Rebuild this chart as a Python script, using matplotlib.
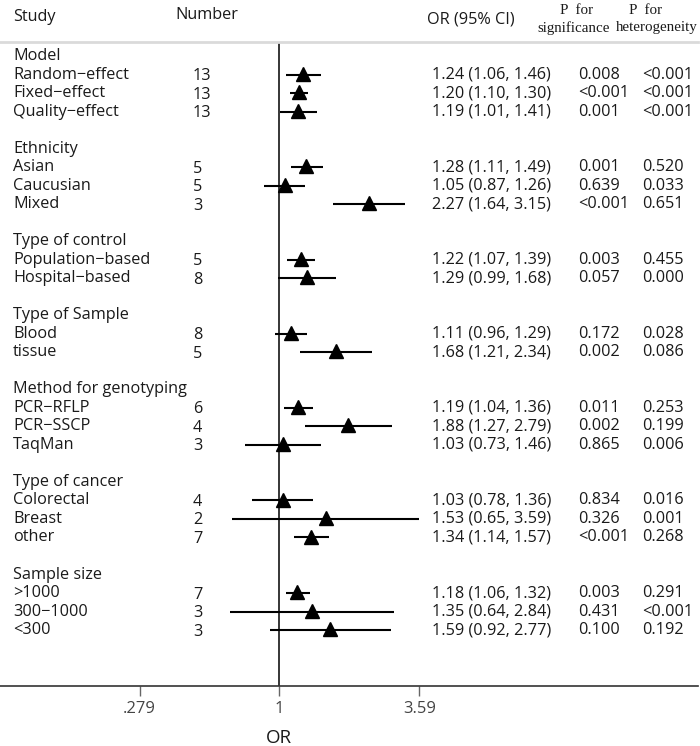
import matplotlib
matplotlib.use("Agg")
import matplotlib.pyplot as plt
import numpy as np

plt.rcParams['font.family'] = ['Open Sans', 'DejaVu Sans']

# subgroup headings and the rows under each
groups = ["Model", "Ethnicity", "Type of control", "Type of Sample",
          "Method for genotyping", "Type of cancer", "Sample size"]
group_of = [0, 0, 0, 1, 1, 1, 2, 2, 3, 3, 4, 4, 4, 5, 5, 5, 6, 6, 6]
studies = ["Random\u2212effect", "Fixed\u2212effect", "Quality\u2212effect",
           "Asian", "Caucusian", "Mixed",
           "Population\u2212based", "Hospital\u2212based",
           "Blood", "tissue",
           "PCR\u2212RFLP", "PCR\u2212SSCP", "TaqMan",
           "Colorectal", "Breast", "other",
           ">1000", "300\u22121000", "<300"]
numbers = [13, 13, 13, 5, 5, 3, 5, 8, 8, 5, 6, 4, 3, 4, 2, 7, 7, 3, 3]
or_est = [1.24, 1.20, 1.19, 1.28, 1.05, 2.27, 1.22, 1.29, 1.11, 1.68,
          1.19, 1.88, 1.03, 1.03, 1.53, 1.34, 1.18, 1.35, 1.59]
ci_low = [1.06, 1.10, 1.01, 1.11, 0.87, 1.64, 1.07, 0.99, 0.96, 1.21,
          1.04, 1.27, 0.73, 0.78, 0.65, 1.14, 1.06, 0.64, 0.92]
ci_high = [1.46, 1.30, 1.41, 1.49, 1.26, 3.15, 1.39, 1.68, 1.29, 2.34,
           1.36, 2.79, 1.46, 1.36, 3.59, 1.57, 1.32, 2.84, 2.77]
p_sig = ["0.008", "<0.001", "0.001", "0.001", "0.639", "<0.001", "0.003", "0.057",
         "0.172", "0.002", "0.011", "0.002", "0.865", "0.834", "0.326", "<0.001",
         "0.003", "0.431", "0.100"]
p_het = ["<0.001", "<0.001", "<0.001", "0.520", "0.033", "0.651", "0.455", "0.000",
         "0.028", "0.086", "0.253", "0.199", "0.006", "0.016", "0.001", "0.268",
         "0.291", "<0.001", "0.192"]
xticks = [0.279, 1, 3.59]
xtick_labels = [".279", "1", "3.59"]

W, H = 700, 746
fig = plt.figure(figsize=(W / 100, H / 100), dpi=100)

# row positions: heading, its studies, then a blank row
head_rows = []
study_rows = []
r = 0
for g in range(len(groups)):
    head_rows.append(r)
    r += 1
    for i, gi in enumerate(group_of):
        if gi == g:
            study_rows.append(r)
            r += 1
    r += 1
study_rows = np.array(study_rows)

ax = fig.add_axes([0, 60 / H, 698 / W, 644 / H])
ax.set_xscale("log")
x_one = 279.3 / 698
span = 698 / 109.5  # ln units across the axes
ax.set_xlim(np.exp(-x_one * span), np.exp((1 - x_one) * span))
ax.set_ylim(34.02, -0.756)

for s in ["left", "right"]:
    ax.spines[s].set_visible(False)
ax.spines["top"].set_color("#dadada")
ax.spines["top"].set_linewidth(2)
ax.spines["bottom"].set_color("#333333")
ax.spines["bottom"].set_linewidth(1.2)
ax.set_yticks([])
ax.set_xticks(xticks)
ax.set_xticklabels(xtick_labels, fontsize=12, color="#444444")
ax.xaxis.set_minor_locator(matplotlib.ticker.NullLocator())
ax.tick_params(axis="x", length=7, width=1, color="#666666", pad=4)

ax.axvline(1, color="black", lw=1.1, zorder=1)
ax.hlines(study_rows, ci_low, ci_high, color="black", lw=1.5, zorder=2)
ax.plot(or_est, study_rows - 0.05, linestyle="none", marker="^", ms=10,
        color="black", zorder=3)

txt = dict(fontsize=11.7, color="#1a1a1a", va="center")
trans = ax.get_yaxis_transform()


def fx(px):
    return px / 698


for g, row in zip(groups, head_rows):
    ax.text(fx(13), row, g, transform=trans, **txt)
for i, row in enumerate(study_rows):
    ax.text(fx(13), row, studies[i], transform=trans, **txt)
    ax.text(fx(193), row + 0.08, str(numbers[i]), transform=trans, **txt)
    ax.text(fx(432), row, f"{or_est[i]:.2f} ({ci_low[i]:.2f}, {ci_high[i]:.2f})",
            transform=trans, **txt)
    ax.text(fx(578), row, p_sig[i], transform=trans, **txt)
    ax.text(fx(642), row, p_het[i], transform=trans, **txt)

# column headers
hdr = dict(fontsize=11.7, color="#1a1a1a", va="center")
fig.text(13 / W, 1 - 17 / H, "Study", **hdr)
fig.text(175 / W, 1 - 15 / H, "Number", **hdr)
fig.text(427 / W, 1 - 20 / H, "OR (95% CI)", **hdr)
ser = dict(fontsize=10.8, color="#1a1a1a", va="center", ha="center",
           family=["Liberation Serif", "DejaVu Serif"])
fig.text(577 / W, 1 - 10 / H, "P  for", **ser)
fig.text(574 / W, 1 - 28 / H, "significance", **ser)
fig.text(646 / W, 1 - 10 / H, "P  for", **ser)
fig.text(657 / W, 1 - 28 / H, "heterogeneity", **ser)

fig.text(279 / W, 1 - 738 / H, "OR", fontsize=13.5, color="#1a1a1a",
         ha="center", va="center")

fig.savefig("out.png", dpi=100)
